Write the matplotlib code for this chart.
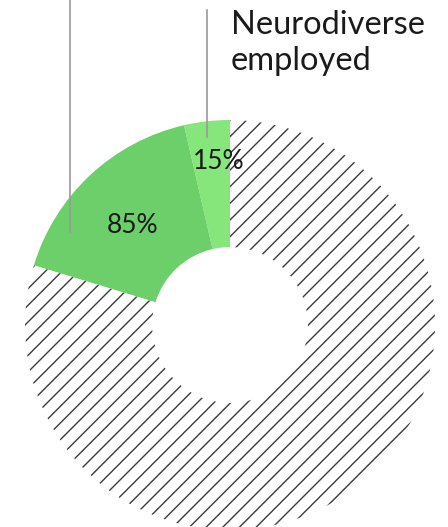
import numpy as np
import matplotlib
matplotlib.use("Agg")
import matplotlib.pyplot as plt

# share of the ring, in percent of the full circle
labels = ["15%", "85%", ""]
shares = [3.6, 16.7, 79.7]
colors = ["#86e57b", "#6ccf6a", "white"]
hatches = [None, None, "//"]
title = "Neurodiverse\nemployed"

plt.rcParams["font.family"] = ["Lato", "DejaVu Sans"]
plt.rcParams["hatch.linewidth"] = 1.0

W, H, DPI = 448, 527, 100
fig = plt.figure(figsize=(W / DPI, H / DPI), dpi=DPI)
cx, cy, R = 230, 325, 205          # ring centre / radius in pixels
ax = fig.add_axes([(cx - R) / W, (H - cy - R) / H, 2 * R / W, 2 * R / H])

inner = 0.38
wedges, _ = ax.pie(shares, colors=colors, startangle=90, counterclock=True,
                   radius=1.0, wedgeprops=dict(width=1 - inner, linewidth=0))
for w, h in zip(wedges, hatches):
    if h:
        w.set_hatch(h)
        w.set_edgecolor("#3a3a3a")
        w.set_linewidth(0)
ax.set_xlim(-1, 1)
ax.set_ylim(-1, 1)
ax.set_aspect("equal")
ax.axis("off")

# percentage labels inside the green wedges
for w, lab, r_off, a_off in zip(wedges[:2], labels[:2], [0.80, 0.68], [-2.5, 1.5]):
    mid = np.deg2rad((w.theta1 + w.theta2) / 2 + a_off)
    ax.text(r_off * np.cos(mid), r_off * np.sin(mid), lab, ha="center",
            va="center", fontsize=19, color="#1a1a1a")

# leader lines (pixel -> data)
def px(x, y):
    return (x - cx) / R, (cy - y) / R

for (x0, y0), (x1, y1) in [(px(70, -5), px(70, 232)), (px(207, 10), px(207, 137))]:
    ax.plot([x0, x1], [y0, y1], color="#9a9a9a", lw=1.2, clip_on=False)

fig.text(231 / W, 1 - 10 / H, title, ha="left", va="top", fontsize=23.5,
         color="#1a1a1a", linespacing=1.25)

fig.savefig("out.png", dpi=DPI)
